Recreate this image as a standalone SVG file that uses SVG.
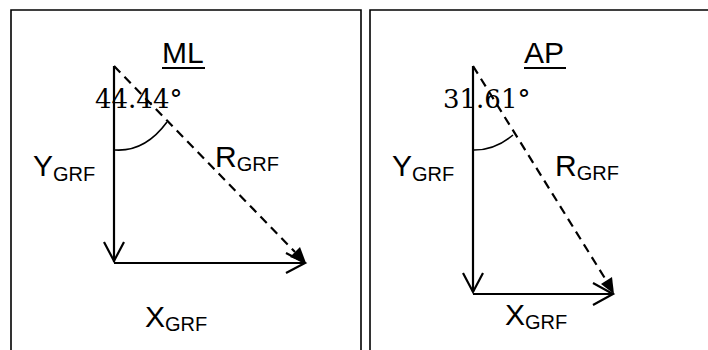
<svg xmlns="http://www.w3.org/2000/svg" width="708" height="350" viewBox="0 0 708 350">
<defs>
<style>
.frame{fill:none;stroke:#000;stroke-width:1.6}
.vec{fill:none;stroke:#000;stroke-width:2.2}
.dash{fill:none;stroke:#000;stroke-width:2.2;stroke-dasharray:9 6}
.arc{fill:none;stroke:#000;stroke-width:1.6}
.head{fill:#000;stroke:none}
.lbl{font-family:"Liberation Sans",Arial,sans-serif;font-size:30px;fill:#000}
.sub{font-size:20px}
.ang{font-family:"DejaVu Serif",serif;font-size:26px;fill:#000}
</style>
</defs>
<g id="frames">
<path class="frame" d="M11,350 V10 H361 V350"/>
<path class="frame" d="M370,350 V10 H708"/>
</g>
<g id="ml-panel">
<text class="lbl" x="162" y="63">ML</text>
<line x1="162" y1="68" x2="205" y2="68" stroke="#000" stroke-width="2.2"/>
<text class="ang" x="95" y="108">44.44°</text>
<text class="lbl" x="33" y="176">Y<tspan class="sub" dy="5">GRF</tspan></text>
<text class="lbl" x="215" y="167">R<tspan class="sub" dy="4">GRF</tspan></text>
<text class="lbl" x="145" y="327">X<tspan class="sub" dy="4">GRF</tspan></text>
</g>
<g id="ap-panel">
<text class="lbl" x="524" y="63">AP</text>
<line x1="524" y1="68" x2="566" y2="68" stroke="#000" stroke-width="2.2"/>
<text class="ang" x="443" y="108">31.61°</text>
<text class="lbl" x="392" y="176">Y<tspan class="sub" dy="5">GRF</tspan></text>
<text class="lbl" x="555" y="176">R<tspan class="sub" dy="4">GRF</tspan></text>
<text class="lbl" x="505" y="325">X<tspan class="sub" dy="4">GRF</tspan></text>
</g>
<g id="connectors">
<line class="vec" x1="114" y1="66" x2="114" y2="262"/>
<polyline class="vec" points="104,242 114,261 124,242"/>
<line class="vec" x1="114" y1="263" x2="305" y2="263"/>
<polyline class="vec" points="286,253 305,263 286,273"/>
<line class="dash" x1="114" y1="66" x2="295" y2="252"/>
<polygon class="head" points="306,263 300,247 290,257"/>
<path class="arc" d="M115,150 Q145,152 167,122"/>

<line class="vec" x1="473" y1="66" x2="473" y2="292"/>
<polyline class="vec" points="463,273 473,292 483,273"/>
<line class="vec" x1="473" y1="294" x2="613" y2="294"/>
<polyline class="vec" points="593,283 613,294 593,305"/>
<line class="dash" x1="473" y1="66" x2="606" y2="280"/>
<polygon class="head" points="614,294 612,277 601,284"/>
<path class="arc" d="M474,150 Q495,150 513,135"/>
</g>
</svg>
